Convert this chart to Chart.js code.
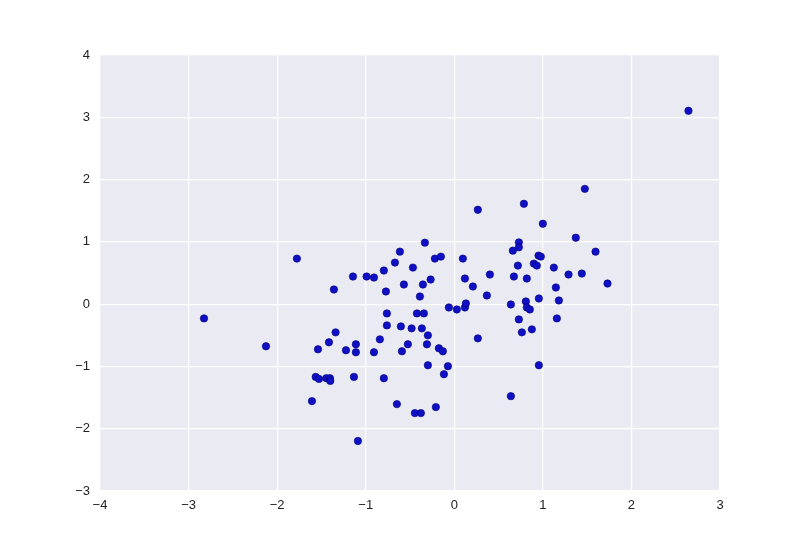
<!DOCTYPE html>
<html>
<head>
<meta charset="utf-8">
<script src="https://cdn.jsdelivr.net/npm/chart.js@4/dist/chart.umd.min.js"></script>
<style>
    html, body { margin: 0; padding: 0; background: #fff; }
    #wrap { width: 800px; height: 546px; }
</style>
</head>
<body>
<div id="wrap"><canvas id="scatterCanvas" width="800" height="546"></canvas></div>
<script>
// values
const xValues = [
    -1.777, -1.144, -0.990, -0.907, -1.359, -2.826, -1.340, -1.415, -1.539, -2.126,
    -1.223, -1.111, -1.111, -0.907, -0.840, -1.565, -1.528, -1.445, -1.404, -1.400,
    -1.133, -1.607, -1.088, -0.332, -0.614, -0.670, -0.219, -0.151, 0.097, -0.795,
    -0.467, 0.402, 0.120, -0.267, -0.569, -0.354, 0.210, -0.772, -0.388, 0.368,
    -0.061, 0.029, 0.120, 0.131, -0.761, -0.422, -0.343, -0.761, -0.603, -0.482,
    -0.366, -0.298, -0.524, -0.309, -0.591, -0.174, -0.129, 0.266, -0.298, -0.072,
    -0.117, -0.795, -0.648, -0.208, -0.445, -0.377, 1.474, 0.786, 0.266, 1.000,
    1.372, 0.729, 0.729, 0.661, 1.595, 0.951, 0.977, 0.718, 0.898, 0.932,
    1.124, 0.673, 0.819, 1.290, 1.440, 1.730, 1.147, 0.955, 1.181, 0.639,
    0.808, 0.819, 0.853, 0.729, 1.158, 0.876, 0.763, 0.955, 0.639, 2.644
];
const yValues = [
    0.731, 0.443, 0.443, 0.427, 0.235, -0.229, -0.453, -0.613, -0.725, -0.677,
    -0.741, -0.645, -0.773, -0.773, -0.565, -1.168, -1.200, -1.189, -1.189, -1.232,
    -1.168, -1.557, -2.197, 0.987, 0.843, 0.667, 0.731, 0.763, 0.731, 0.539,
    0.587, 0.475, 0.411, 0.395, 0.315, 0.315, 0.283, 0.203, 0.123, 0.139,
    -0.053, -0.085, -0.053, 0.011, -0.149, -0.149, -0.149, -0.341, -0.357, -0.389,
    -0.389, -0.501, -0.645, -0.645, -0.757, -0.709, -0.757, -0.549, -0.981, -0.997,
    -1.125, -1.189, -1.605, -1.653, -1.749, -1.749, 1.851, 1.611, 1.515, 1.291,
    1.067, 0.992, 0.912, 0.859, 0.843, 0.779, 0.763, 0.619, 0.651, 0.619,
    0.587, 0.443, 0.411, 0.475, 0.491, 0.331, 0.267, 0.091, 0.059, -0.005,
    0.043, -0.053, -0.085, -0.245, -0.229, -0.405, -0.453, -0.981, -1.477, 3.104
];
const xTicks = [-4, -3, -2, -1, 0, 1, 2, 3];
const yTicks = [-3, -2, -1, 0, 1, 2, 3, 4];

const points = xValues.map((x, i) => ({ x: x, y: yValues[i] }));

const axesBackground = {
    id: "axesBackground",
    beforeDraw(chart) {
        const { ctx, chartArea } = chart;
        ctx.save();
        ctx.fillStyle = "#EAEAF2";
        ctx.fillRect(chartArea.left, chartArea.top, chartArea.right - chartArea.left, chartArea.bottom - chartArea.top);
        ctx.restore();
    }
};

const minusLabel = v => String(v).replace("-", "\u2212");
const tickFont = { family: "'Liberation Sans', Arial, sans-serif", size: 13 };

new Chart(document.getElementById("scatterCanvas"), {
    type: "scatter",
    data: {
        datasets: [{
            data: points,
            backgroundColor: "#0f0fc4",
            borderColor: "#00007a",
            borderWidth: 0.6,
            pointRadius: 3.7,
            pointHoverRadius: 3.7
        }]
    },
    options: {
        responsive: false,
        animation: false,
        layout: { padding: { top: 55, right: 80, left: 0, bottom: 0 } },
        plugins: { legend: { display: false }, tooltip: { enabled: false } },
        scales: {
            x: {
                type: "linear",
                min: xTicks[0],
                max: xTicks[xTicks.length - 1],
                afterBuildTicks: s => { s.ticks = xTicks.map(v => ({ value: v })); },
                afterFit: s => { s.height = 55; },
                border: { display: false },
                grid: { color: "#ffffff", lineWidth: 1.2, drawTicks: false },
                ticks: { color: "#222222", font: tickFont, padding: 7, callback: minusLabel }
            },
            y: {
                type: "linear",
                min: yTicks[0],
                max: yTicks[yTicks.length - 1],
                afterBuildTicks: s => { s.ticks = yTicks.map(v => ({ value: v })); },
                afterFit: s => { s.width = 100; },
                border: { display: false },
                grid: { color: "#ffffff", lineWidth: 1.2, drawTicks: false },
                ticks: { color: "#222222", font: tickFont, padding: 10, callback: minusLabel }
            }
        }
    },
    plugins: [axesBackground]
});
</script>
</body>
</html>
